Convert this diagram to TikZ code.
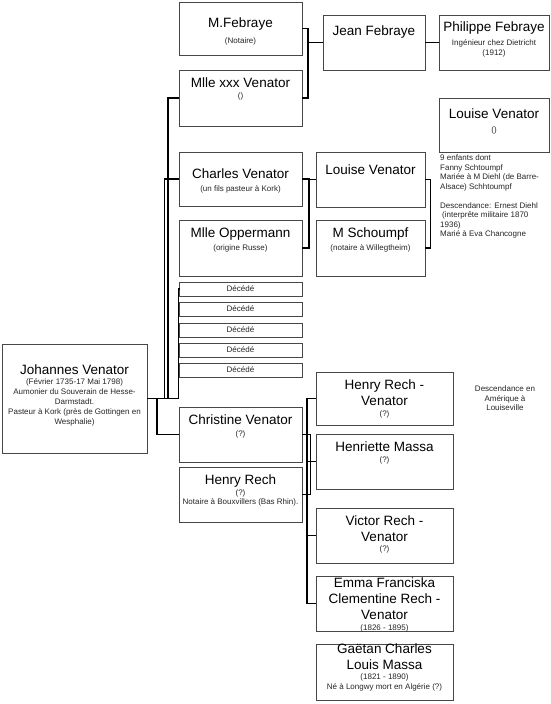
\documentclass[tikz,border=0pt]{standalone}
\usepackage{fontspec}
\setmainfont{Liberation Sans}
\begin{document}
\begin{tikzpicture}[x=1pt,y=-1pt]
\tikzset{
 box/.style={draw=black!72, line width=0.9pt, fill=white, inner sep=0pt, outer sep=0pt},
 ttl/.style={font=\fontsize{13.5}{16}\selectfont, inner sep=0pt, align=center},
 sml/.style={font=\fontsize{8}{9.5}\selectfont, inner sep=0pt, align=center, text=black!85},
 sml10/.style={font=\fontsize{8}{10}\selectfont, inner sep=0pt, align=center, text=black!85},
 conn/.style={line width=1.3pt, black},
}
\newcommand\gbox[5]{\node[box, minimum width={(#4-#2)*1pt}, minimum height={(#5-#3)*1pt}] (#1) at ({(#2+#4)/2},{(#3+#5)/2}) {};}
\useasboundingbox (0,0) rectangle (550,704);
\fill[white] (0,0) rectangle (550,704);

% boxes
\gbox{MF}{179}{2}{302}{55}
\gbox{MX}{179}{70}{302}{126}
\gbox{JF}{323}{15}{425}{70}
\gbox{PF}{439}{15}{549}{70}
\gbox{LVR}{439}{98}{549}{152}
\gbox{CV}{179}{152}{302}{206}
\gbox{LVM}{316}{152}{425}{207}
\gbox{MO}{179}{220}{302}{276}
\gbox{MS}{316}{220}{425}{276}
\gbox{DA}{179}{282}{302}{296}
\gbox{DB}{179}{302}{302}{316}
\gbox{DC}{179}{323}{302}{337}
\gbox{DD}{179}{343}{302}{357}
\gbox{DE}{179}{363}{302}{377}
\gbox{JV}{2}{344}{147}{453}
\gbox{CHV}{179}{407}{302}{462}
\gbox{HR}{179}{467}{302}{522}
\gbox{HRV}{316}{372}{453}{425}
\gbox{HM}{316}{434}{453}{489}
\gbox{VRV}{316}{508}{453}{563}
\gbox{EF}{316}{576}{453}{631}
\gbox{GC}{316}{644}{453}{700}

% texts
\node[ttl] (tMF) at (240.5,24) {M.Febraye};
\node[sml] (sMF) at (240.5,41) {(Notaire)};
\node[ttl] (tMX) at (240.5,83) {Mlle xxx Venator};
\node[sml] (sMX) at (240.5,96) {()};
\node[ttl] (tJF) at (374,32) {Jean Febraye};
\node[ttl] (tPF) at (494,28) {Philippe Febraye};
\node[sml, anchor=north] (sPF) at (494,43-3.3) {Ingénieur chez Dietricht\\(1912)};
\node[ttl] (tLVR) at (494,114) {Louise Venator};
\node[sml] (sLVR) at (494,130) {()};
\node[sml, align=left, anchor=north west] (note1) at (440,158-3.3) {9 enfants dont\\Fanny Schtoumpf\\Mariée à M Diehl (de Barre-\\Alsace) Schhtoumpf\\[9.5pt]Descendance: Ernest Diehl\\\hspace*{2pt}(interprête militaire 1870\\1936)\\Marié à Eva Chancogne};
\node[ttl] (tCV) at (240.5,174) {Charles Venator};
\node[sml] (sCV) at (240.5,189) {(un fils pasteur à Kork)};
\node[ttl] (tLVM) at (370.5,170) {Louise Venator};
\node[ttl] (tMO) at (240.5,234) {Mlle Oppermann};
\node[sml] (sMO) at (240.5,248) {(origine Russe)};
\node[ttl] (tMS) at (370.5,234) {M Schoumpf};
\node[sml] (sMS) at (370.5,248) {(notaire à Willegtheim)};
\foreach \d in {DA,DB,DC,DD,DE}{\node[sml] (t\d) at (\d.center) {Décédé};}
\node[ttl] (tJV) at (74.5,370) {Johannes Venator};
\node[sml10, anchor=north] (sJV) at (74.5,381.5-3.3) {(Février 1735-17 Mai 1798)\\Aumonier du Souverain de Hesse-\\Darmstadt.\\Pasteur à Kork (près de Gottingen en\\Wesphalie)};
\node[ttl] (tCHV) at (240.5,420) {Christine Venator};
\node[sml] (sCHV) at (240.5,434) {(?)};
\node[ttl] (tHR) at (240.5,481) {Henry Rech};
\node[sml, anchor=north] (sHR) at (240.5,492.5-3.3) {(?)\\Notaire à Bouxvillers (Bas Rhin).};
\node[ttl, anchor=north] (tHRV) at (384.5,385-5) {Henry Rech -\\Venator};
\node[sml] (sHRV) at (384.5,414) {(?)};
\node[ttl] (tHM) at (384.5,447) {Henriette Massa};
\node[sml] (sHM) at (384.5,460.5) {(?)};
\node[ttl, anchor=north] (tVRV) at (384.5,521-5) {Victor Rech -\\Venator};
\node[sml] (sVRV) at (384.5,549.5) {(?)};
\node[ttl, anchor=north] (tEF) at (384.5,583-5) {Emma Franciska\\Clementine Rech -\\Venator};
\node[sml] (sEF) at (384.5,628) {(1826 - 1895)};
\node[ttl, anchor=north] (tGC) at (384.5,649-5) {Gaëtan Charles\\Louis Massa};
\node[sml, anchor=north] (sGC) at (384.5,677-3.3) {(1821 - 1890)\\Né à Longwy mort en Algérie (?)};
\node[sml, anchor=north] (note2) at (505,389-3.3) {Descendance en\\Amérique à\\Louiseville};

% connectors
\coordinate (b1) at (308,42.5);
\draw[conn] (MF.east) -| (b1) |- (MX.east);
\draw[conn] (b1) -- (JF.west);
\draw[conn] (JF.east) -- (PF.west);
\coordinate (b2) at (309,179.5);
\draw[conn] (CV.east) -| (b2) |- (MO.east);
\draw[conn] (b2) -- (LVM.west);
\coordinate (b3) at (430.5,179.5);
\draw[conn] (LVM.east) -| (b3) |- (MS.east);
\coordinate (jb) at (178.5,398.5);
\coordinate (j1) at (168,398.5);
\coordinate (j2) at (164.5,398.5);
\coordinate (j3) at (157,398.5);
\draw[conn] (JV.east) -- (jb) |- (DA.west);
\draw[conn] (j1) |- (MX.west);
\draw[conn] (j2) |- (CV.west);
\draw[conn] (j3) |- (CHV.west);
\coordinate (k1) at (310.5,461.5);
\coordinate (kb) at (307,461.5);
\draw[conn] (CHV.east) -| (k1) |- (HR.east);
\draw[conn] (k1) -- (kb);
\draw[conn] (kb) |- (HRV.west);
\draw[conn] (kb) |- (EF.west);
\draw[conn] (kb) -- (HM.west);
\draw[conn] (kb |- VRV.west) -- (VRV.west);
\end{tikzpicture}
\end{document}
